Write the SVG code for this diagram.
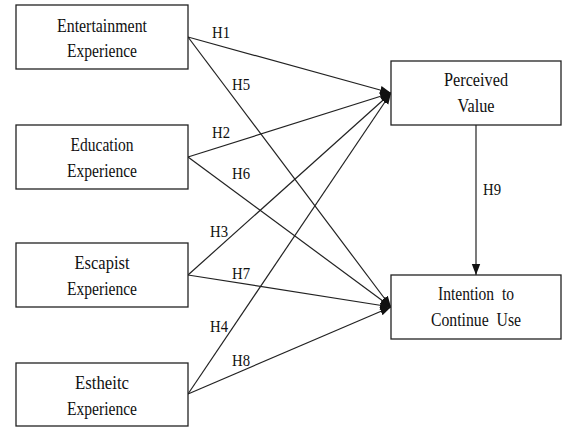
<svg xmlns="http://www.w3.org/2000/svg" width="562" height="427" viewBox="0 0 562 427">
<style>
.box{fill:#fff;stroke:#222;stroke-width:1.3}
.t{font-family:'Liberation Serif','DejaVu Serif',serif;font-size:19px;fill:#111;text-anchor:middle}
.h{font-family:'Liberation Serif','DejaVu Serif',serif;font-size:17px;fill:#111}
.c{stroke:#222;stroke-width:1.2;fill:none;marker-end:url(#ah)}
</style>
<defs>
<marker id="ah" markerUnits="userSpaceOnUse" markerWidth="12" markerHeight="10" refX="11" refY="5" orient="auto">
<path d="M0,0.8 L11,5 L0,9.2 Z" fill="#111"/>
</marker>
</defs>
<rect width="562" height="427" fill="#fff"/>
<g id="connectors">
<line class="c" x1="188" y1="37" x2="391" y2="93"/>
<line class="c" x1="188" y1="37" x2="391" y2="307"/>
<line class="c" x1="188" y1="157" x2="391" y2="93"/>
<line class="c" x1="188" y1="157" x2="391" y2="307"/>
<line class="c" x1="188" y1="275" x2="391" y2="93"/>
<line class="c" x1="188" y1="275" x2="391" y2="307"/>
<line class="c" x1="188" y1="394" x2="391" y2="93"/>
<line class="c" x1="188" y1="394" x2="391" y2="307"/>
<line class="c" x1="476" y1="125" x2="476" y2="275"/>
<text class="h" x="212" y="38" textLength="18" lengthAdjust="spacingAndGlyphs">H1</text>
<text class="h" x="232" y="90" textLength="18" lengthAdjust="spacingAndGlyphs">H5</text>
<text class="h" x="212" y="138" textLength="18" lengthAdjust="spacingAndGlyphs">H2</text>
<text class="h" x="232" y="179" textLength="18" lengthAdjust="spacingAndGlyphs">H6</text>
<text class="h" x="210" y="237" textLength="18" lengthAdjust="spacingAndGlyphs">H3</text>
<text class="h" x="232" y="279" textLength="18" lengthAdjust="spacingAndGlyphs">H7</text>
<text class="h" x="210" y="332" textLength="18" lengthAdjust="spacingAndGlyphs">H4</text>
<text class="h" x="232" y="366" textLength="18" lengthAdjust="spacingAndGlyphs">H8</text>
<text class="h" x="483" y="195" textLength="18" lengthAdjust="spacingAndGlyphs">H9</text>
</g>
<g id="entertainment">
<rect class="box" x="16" y="5" width="172" height="64"/>
<text class="t" x="102" y="32" textLength="90" lengthAdjust="spacingAndGlyphs">Entertainment</text>
<text class="t" x="102" y="57" textLength="70" lengthAdjust="spacingAndGlyphs">Experience</text>
</g>
<g id="education">
<rect class="box" x="16" y="125" width="172" height="64"/>
<text class="t" x="102" y="151" textLength="63" lengthAdjust="spacingAndGlyphs">Education</text>
<text class="t" x="102" y="177" textLength="70" lengthAdjust="spacingAndGlyphs">Experience</text>
</g>
<g id="escapist">
<rect class="box" x="16" y="243" width="172" height="64"/>
<text class="t" x="102" y="269" textLength="55" lengthAdjust="spacingAndGlyphs">Escapist</text>
<text class="t" x="102" y="295" textLength="70" lengthAdjust="spacingAndGlyphs">Experience</text>
</g>
<g id="estheitc">
<rect class="box" x="16" y="363" width="172" height="63"/>
<text class="t" x="102" y="389" textLength="54" lengthAdjust="spacingAndGlyphs">Estheitc</text>
<text class="t" x="102" y="415" textLength="70" lengthAdjust="spacingAndGlyphs">Experience</text>
</g>
<g id="perceived-value">
<rect class="box" x="391" y="61" width="170" height="64"/>
<text class="t" x="476" y="86" textLength="64" lengthAdjust="spacingAndGlyphs">Perceived</text>
<text class="t" x="476" y="112" textLength="37" lengthAdjust="spacingAndGlyphs">Value</text>
</g>
<g id="intention">
<rect class="box" x="391" y="275" width="170" height="64"/>
<text class="t" x="476" y="300" textLength="76" lengthAdjust="spacingAndGlyphs" xml:space="preserve">Intention  to</text>
<text class="t" x="476" y="326" textLength="90" lengthAdjust="spacingAndGlyphs" xml:space="preserve">Continue  Use</text>
</g>
</svg>
